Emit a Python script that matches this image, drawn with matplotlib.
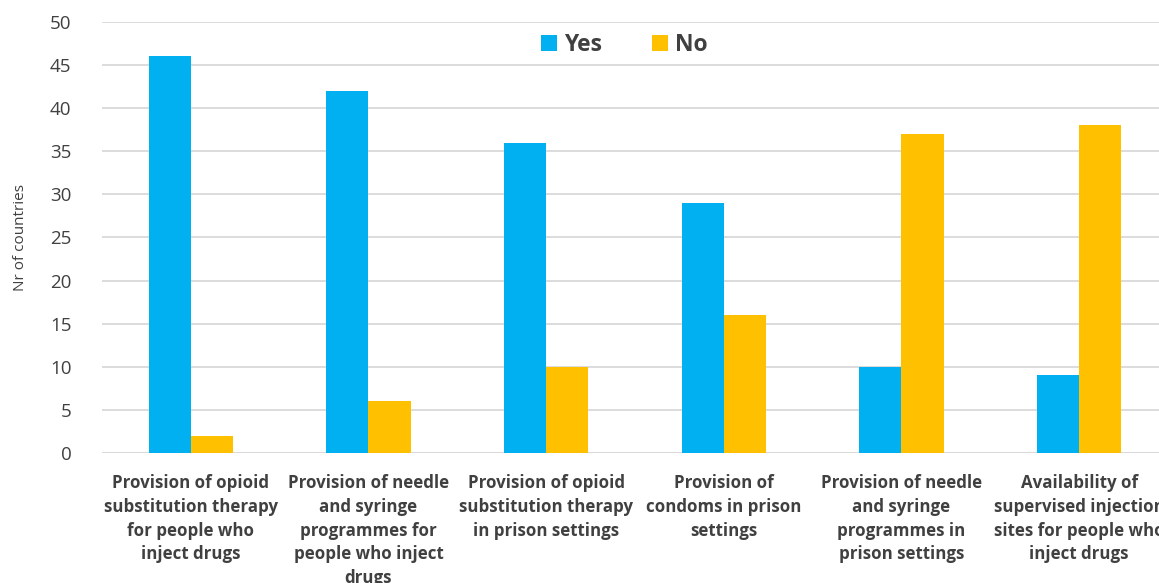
import numpy as np
import matplotlib.pyplot as plt
from matplotlib.patches import Patch

# Harm reduction measures: number of countries answering yes / no
categories = [
    "Provision of opioid\nsubstitution therapy\nfor people who\ninject drugs",
    "Provision of needle\nand syringe\nprogrammes for\npeople who inject\ndrugs",
    "Provision of opioid\nsubstitution therapy\nin prison settings",
    "Provision of\ncondoms in prison\nsettings",
    "Provision of needle\nand syringe\nprogrammes in\nprison settings",
    "Availability of\nsupervised injection\nsites for people who\ninject drugs",
]
yes_counts = [46, 42, 36, 29, 10, 9]
no_counts = [2, 6, 10, 16, 37, 38]

YES_COLOR = "#00B0F0"
NO_COLOR = "#FFC000"
TEXT_COLOR = "#404040"
GRID_COLOR = "#D9D9D9"

plt.rcParams["font.family"] = ["Open Sans", "DejaVu Sans"]

fig = plt.figure(figsize=(11.59, 5.83), dpi=100)
# plot area runs slightly past the right edge of the figure
ax = fig.add_axes([102 / 1159, 130 / 583, 1066 / 1159, 431 / 583])

x = np.arange(len(categories))
width = 0.237
ax.bar(x - width / 2, yes_counts, width, color=YES_COLOR, zorder=3)
ax.bar(x + width / 2, no_counts, width, color=NO_COLOR, zorder=3)

ax.set_xlim(-0.5, len(categories) - 0.5)
ax.set_ylim(0, 50)
ax.set_yticks(range(0, 51, 5))
ax.yaxis.grid(True, color=GRID_COLOR, linewidth=1.3, zorder=0)
ax.set_axisbelow(True)
for side in ["top", "right", "left", "bottom"]:
    ax.spines[side].set_visible(False)
ax.axhline(0, color=GRID_COLOR, linewidth=1.3, zorder=2)

ax.tick_params(axis="y", length=0, labelsize=13.5, labelcolor=TEXT_COLOR, pad=22)
ax.tick_params(axis="x", length=0, pad=15)
ax.set_xticks(x)
ax.set_xticklabels(categories, fontsize=12.2, fontweight="bold", color=TEXT_COLOR,
                   linespacing=1.42, va="top")

ax.set_ylabel("Nr of countries", fontsize=11, color=TEXT_COLOR, labelpad=16)

handles = [Patch(facecolor=YES_COLOR, label="Yes"), Patch(facecolor=NO_COLOR, label="No")]
leg = ax.legend(handles=handles, loc="upper center", bbox_to_anchor=(0.49, 1.023),
                ncol=2, frameon=False, handlelength=0.7, handleheight=0.7,
                handletextpad=0.3, columnspacing=2.2,
                prop={"size": 16.5, "weight": "bold"})
for t in leg.get_texts():
    t.set_color(TEXT_COLOR)

fig.savefig("out.png", dpi=100)
